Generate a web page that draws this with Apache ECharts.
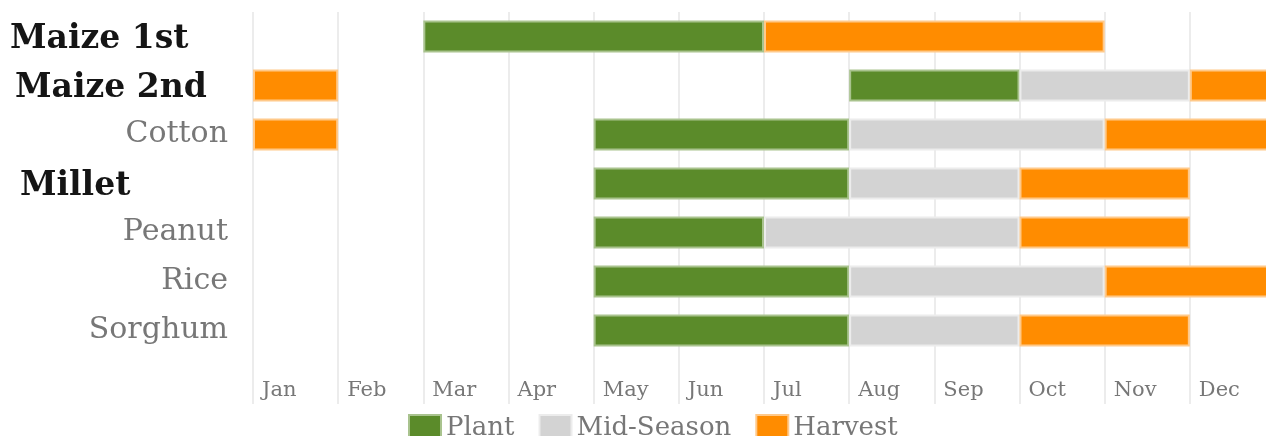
<!DOCTYPE html>
<html>
<head>
<meta charset="utf-8">
<script src="https://cdn.jsdelivr.net/npm/echarts@6/dist/echarts.min.js"></script>
<style>
html,body{margin:0;padding:0;background:#fff;overflow:hidden;}
#chart{width:1290px;height:436px;}
</style>
</head>
<body>
<div id="chart"></div>
<script>
// ---- data ----
const crops = ['Maize 1st', 'Maize 2nd', 'Cotton', 'Millet', 'Peanut', 'Rice', 'Sorghum'];
const boldCrops = ['Maize 1st', 'Maize 2nd', 'Millet'];
const months = ['Jan', 'Feb', 'Mar', 'Apr', 'May', 'Jun', 'Jul', 'Aug', 'Sep', 'Oct', 'Nov', 'Dec'];
// durations in months, stacked from January
const earlyHarvest = [0, 1, 1, 0, 0, 0, 0];
const idleGap      = [2, 6, 3, 4, 4, 4, 4];
const plant        = [4, 2, 3, 3, 2, 3, 3];
const midSeason    = [0, 2, 3, 2, 3, 3, 2];
const harvest      = [4, 1, 2, 2, 2, 2, 2];

const FONT = '"DejaVu Serif", "Liberation Serif", serif';
const C_PLANT = '#5b8b2a', C_MID = '#d3d3d3', C_HARV = '#ff8c00';
const B_PLANT = '#a9c38e', B_MID = '#ececec', B_HARV = '#ffc98a';

const cats = crops.concat(['']);
const nz = arr => arr.map(v => (v === 0 ? '-' : v));

function seg(name, data, color, border, extra) {
  return Object.assign({
    name: name, type: 'bar', stack: 'season', data: nz(data),
    barWidth: 32,
    itemStyle: { color: color, borderColor: border, borderWidth: 2 },
    emphasis: { disabled: true }, silent: true
  }, extra || {});
}

const chart = echarts.init(document.getElementById('chart'), null, { renderer: 'canvas' });
chart.setOption({
  animation: false,
  grid: { left: 253, top: 12, width: 1022, height: 392, containLabel: false },
  legend: {
    data: ['Plant', 'Mid-Season', 'Harvest'],
    left: 403, top: 409,
    itemWidth: 32, itemHeight: 26, itemGap: 24,
    icon: 'rect',
    textStyle: { fontFamily: FONT, fontSize: 26, color: '#777' }
  },
  xAxis: {
    type: 'value', min: 0, max: 12, interval: 1,
    axisLine: { show: false }, axisTick: { show: false },
    splitLine: { show: true, lineStyle: { color: '#ececec', width: 2 } },
    axisLabel: {
      inside: true, margin: 3, align: 'left', padding: [0, 0, 0, 9],
      fontFamily: FONT, fontSize: 21, color: '#777',
      showMaxLabel: false,
      formatter: v => months[v] || ''
    }
  },
  yAxis: {
    type: 'category', data: cats, inverse: true,
    axisLine: { show: false }, axisTick: { show: false }, splitLine: { show: false },
    axisLabel: {
      margin: 25, align: 'right',
      formatter: v => {
        if (v === 'Maize 1st') return '{b0|' + v + '}';
        if (v === 'Maize 2nd') return '{b1|' + v + '}';
        if (boldCrops.indexOf(v) >= 0) return '{b2|' + v + '}';
        return '{n|' + v + '}';
      },
      rich: {
        n: { fontFamily: FONT, fontSize: 30, color: '#777' },
        b0: { fontFamily: FONT, fontSize: 33, fontWeight: 'bold', color: '#151515', width: 218, align: 'left', padding: [6, 0, 0, 0] },
        b1: { fontFamily: FONT, fontSize: 33, fontWeight: 'bold', color: '#151515', width: 213, align: 'left', padding: [6, 0, 0, 0] },
        b2: { fontFamily: FONT, fontSize: 33, fontWeight: 'bold', color: '#151515', width: 208, align: 'left', padding: [6, 0, 0, 0] }
      }
    }
  },
  series: [
    seg('Harvest', earlyHarvest, C_HARV, B_HARV),
    seg('gap', idleGap, 'rgba(0,0,0,0)', 'rgba(0,0,0,0)', { itemStyle: { color: 'rgba(0,0,0,0)', borderWidth: 0 } }),
    seg('Plant', plant, C_PLANT, B_PLANT),
    seg('Mid-Season', midSeason, C_MID, B_MID),
    seg('Harvest', harvest, C_HARV, B_HARV)
  ]
});
</script>
</body>
</html>
